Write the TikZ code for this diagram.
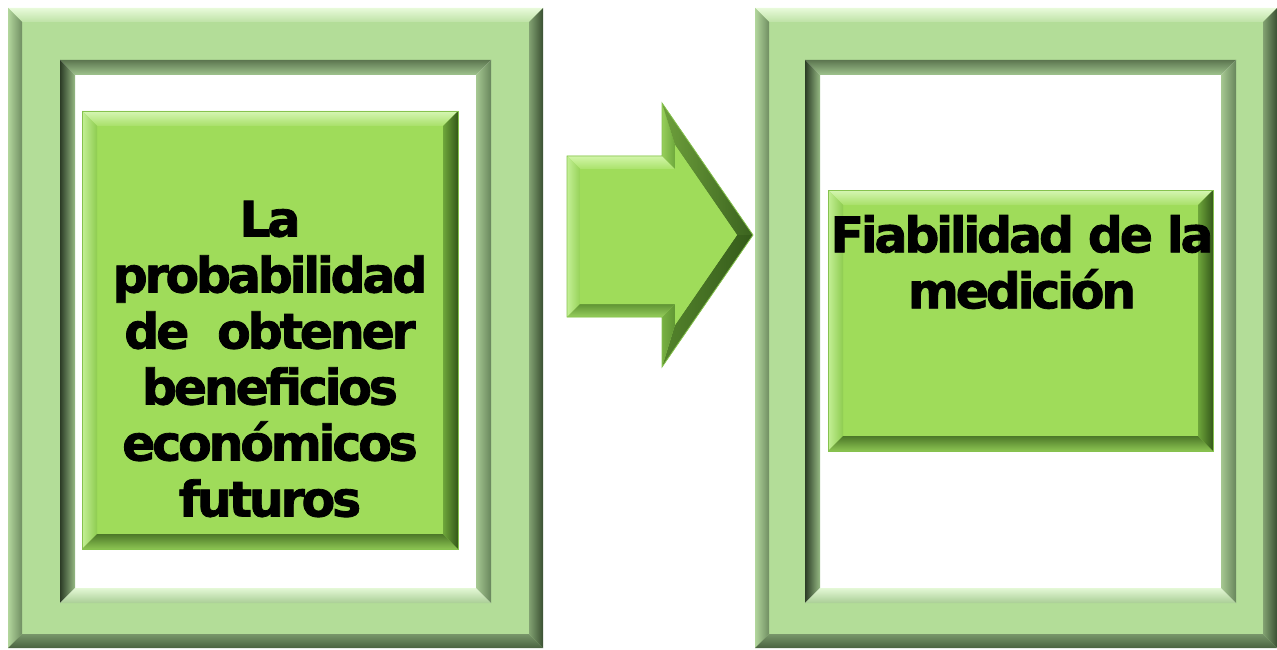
\documentclass[tikz,border=0pt]{standalone}
\usepackage{fontspec}
\newfontfamily\vfont[LetterSpace=-6.5, BoldFeatures={FakeBold=1.6}]{DejaVu Sans}
\definecolor{frameface}{HTML}{B3DD98}
\definecolor{boxface}{HTML}{9FDC5A}
\definecolor{boxline}{HTML}{86C24E}
\newcommand\bevbox[9]{%
\shade[#6] (#1,#2) -- (#3,#2) -- ({#3-#5},{#2+#5}) -- ({#1+#5},{#2+#5}) -- cycle;
\shade[#7] (#1,#2) -- ({#1+#5},{#2+#5}) -- ({#1+#5},{#4-#5}) -- (#1,#4) -- cycle;
\shade[#8] (#1,#4) -- ({#1+#5},{#4-#5}) -- ({#3-#5},{#4-#5}) -- (#3,#4) -- cycle;
\shade[#9] (#3,#2) -- (#3,#4) -- ({#3-#5},{#4-#5}) -- ({#3-#5},{#2+#5}) -- cycle;
}
\tikzset{
 ftopc/.style={top color={rgb,255:red,232;green,250;blue,218}, bottom color={rgb,255:red,190;green,226;blue,166}},
 fleft/.style={left color={rgb,255:red,178;green,214;blue,156}, right color={rgb,255:red,112;green,142;blue,98}},
 fbottom/.style={top color={rgb,255:red,120;green,150;blue,106}, bottom color={rgb,255:red,74;green,99;blue,64}},
 fright/.style={left color={rgb,255:red,130;green,162;blue,114}, right color={rgb,255:red,58;green,80;blue,50}},
 htop/.style={top color={rgb,255:red,92;green,118;blue,80}, bottom color={rgb,255:red,160;green,196;blue,142}},
 hleft/.style={left color={rgb,255:red,44;green,60;blue,38}, right color={rgb,255:red,150;green,186;blue,132}},
 hbottom/.style={top color={rgb,255:red,228;green,248;blue,214}, bottom color={rgb,255:red,170;green,206;blue,150}},
 hright/.style={left color={rgb,255:red,166;green,200;blue,146}, right color={rgb,255:red,104;green,134;blue,92}},
 btop/.style={top color={rgb,255:red,214;green,246;blue,180}, bottom color={rgb,255:red,168;green,224;blue,104}},
 bleft/.style={left color={rgb,255:red,196;green,240;blue,150}, right color={rgb,255:red,142;green,204;blue,80}},
 bbottom/.style={top color={rgb,255:red,76;green,120;blue,40}, bottom color={rgb,255:red,140;green,196;blue,82}},
 bright/.style={left color={rgb,255:red,110;green,166;blue,58}, right color={rgb,255:red,52;green,88;blue,26}},
 txt/.style={font=\vfont\bfseries\fontsize{49}{56}\selectfont, align=center, inner sep=0pt, text=black},
}
\begin{document}
\begin{tikzpicture}[x=1pt,y=-1pt]
\useasboundingbox (0,0) rectangle (1277,650);
% ---------- left frame ----------
\fill[frameface] (8,8) rectangle (543,648);
\bevbox{8}{8}{543}{648}{14}{ftopc}{fleft}{fbottom}{fright}
\fill[white] (60,60) rectangle (491,603);
\bevbox{60}{60}{491}{603}{15}{htop}{hleft}{hbottom}{hright}
% left inner box
\fill[boxface] (82,111) rectangle (458,549);
\bevbox{82}{111}{458}{549}{15}{btop}{bleft}{bbottom}{bright}
\draw[boxline, line width=0.8pt] (82,111) rectangle (458,549);
\node[txt] (lefttext) at (270,359) {La\\probabilidad\\de\ \ obtener\\beneficios\\económicos\\futuros};
% ---------- right frame ----------
\fill[frameface] (755,8) rectangle (1277,648);
\bevbox{755}{8}{1277}{648}{14}{ftopc}{fleft}{fbottom}{fright}
\fill[white] (805,60) rectangle (1236,603);
\bevbox{805}{60}{1236}{603}{15}{htop}{hleft}{hbottom}{hright}
% right inner box
\fill[boxface] (828,190) rectangle (1213,451);
\bevbox{828}{190}{1213}{451}{15}{btop}{bleft}{bbottom}{bright}
\draw[boxline, line width=0.8pt] (828,190) rectangle (1213,451);
\node[txt] (righttext) at (1022,262) {Fiabilidad de la\\medición};
% ---------- block arrow ----------
\coordinate (A) at (567,156); \coordinate (B) at (662,156); \coordinate (C) at (662,103);
\coordinate (D) at (753,235); \coordinate (E) at (662,367); \coordinate (F) at (662,317);
\coordinate (G) at (567,317);
\coordinate (A1) at (580,169); \coordinate (B1) at (675,169); \coordinate (C1) at (675,145);
\coordinate (D1) at (737,235); \coordinate (E1) at (675,325); \coordinate (F1) at (675,304);
\coordinate (G1) at (580,304);
\fill[boxface] (A) -- (B) -- (C) -- (D) -- (E) -- (F) -- (G) -- cycle;
\shade[top color={rgb,255:red,210;green,246;blue,170}, bottom color={rgb,255:red,170;green,226;blue,106}] (A) -- (B) -- (B1) -- (A1) -- cycle;
\shade[left color={rgb,255:red,196;green,240;blue,150}, right color={rgb,255:red,150;green,210;blue,88}] (A) -- (A1) -- (G1) -- (G) -- cycle;
\shade[left color={rgb,255:red,150;green,206;blue,90}, right color={rgb,255:red,110;green,168;blue,60}] (B) -- (C) -- (C1) -- (B1) -- cycle;
\shade[left color={rgb,255:red,110;green,160;blue,60}, right color={rgb,255:red,58;green,98;blue,30}] (C) -- (D) -- (D1) -- (C1) -- cycle;
\shade[left color={rgb,255:red,84;green,132;blue,44}, right color={rgb,255:red,52;green,90;blue,26}] (D) -- (E) -- (E1) -- (D1) -- cycle;
\shade[left color={rgb,255:red,120;green,176;blue,66}, right color={rgb,255:red,96;green,150;blue,52}] (E) -- (F) -- (F1) -- (E1) -- cycle;
\shade[top color={rgb,255:red,96;green,148;blue,52}, bottom color={rgb,255:red,150;green,206;blue,92}] (F) -- (G) -- (G1) -- (F1) -- cycle;
\fill[boxface] (A1) -- (B1) -- (C1) -- (D1) -- (E1) -- (F1) -- (G1) -- cycle;
\draw[boxline, line width=0.8pt] (A) -- (B) -- (C) -- (D) -- (E) -- (F) -- (G) -- cycle;
\end{tikzpicture}
\end{document}
